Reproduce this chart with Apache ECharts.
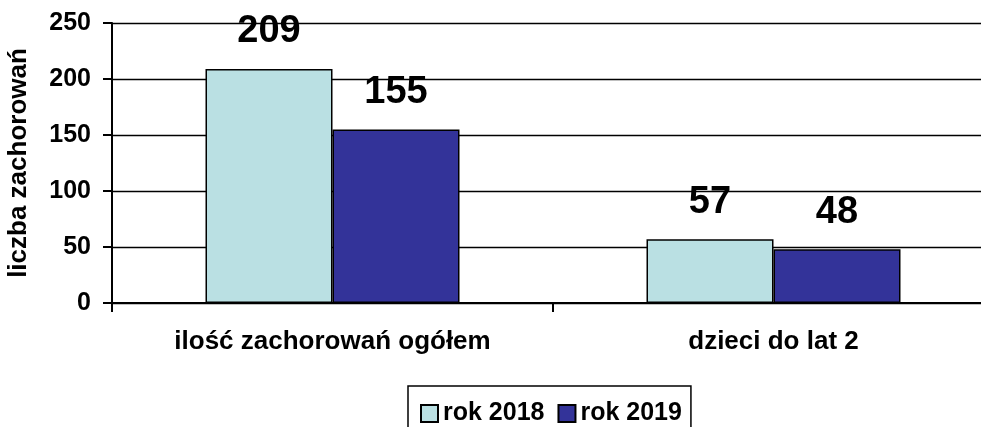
<!DOCTYPE html>
<html>
<head>
<meta charset="utf-8">
<script src="https://cdn.jsdelivr.net/npm/echarts@6/dist/echarts.min.js"></script>
<style>
  html, body { margin: 0; padding: 0; background: #fff; }
  #chart { width: 981px; height: 427px; }
</style>
</head>
<body>
<div id="chart"></div>
<script>
  const categories = ['ilość zachorowań ogółem', 'dzieci do lat 2']
  const seriesNames = ['rok 2018', 'rok 2019']
  const values2018 = [209, 57]
  const values2019 = [155, 48]
  const yTicks = { min: 0, max: 250, interval: 50 }

  const font = 'Liberation Sans, Arial, Helvetica, sans-serif'
  const chart = echarts.init(document.getElementById('chart'), null, { renderer: 'canvas' })

  // one bar series per year
  const makeSeries = (name, data, color) => ({
    name: name,
    type: 'bar',
    data: data,
    barWidth: 127,
    barGap: '0%',
    itemStyle: { color: color, borderColor: '#000', borderWidth: 1.5 },
    label: {
      show: true,
      position: 'top',
      distance: 18,
      color: '#000',
      fontSize: 38,
      fontWeight: 'bold',
      fontFamily: font
    }
  })

  chart.setOption({
    backgroundColor: '#fff',
    animation: false,
    grid: { left: 112, top: 23, bottom: 124, width: 882, outerBoundsMode: 'none', containLabel: false },
    legend: {
      data: seriesNames,
      left: 408,
      top: 386,
      padding: [15, 9, 15, 12],
      itemWidth: 17,
      itemHeight: 17,
      itemGap: 13,
      icon: 'rect',
      borderColor: '#000',
      borderWidth: 1.5,
      textStyle: { color: '#000', fontSize: 25, fontWeight: 'bold', fontFamily: font }
    },
    xAxis: {
      type: 'category',
      data: categories,
      axisLine: { show: true, lineStyle: { color: '#000', width: 2 } },
      axisTick: { show: true, inside: false, length: 9, lineStyle: { color: '#000', width: 2 } },
      axisLabel: { margin: 26, color: '#000', fontSize: 26, fontWeight: 'bold', fontFamily: font }
    },
    yAxis: {
      type: 'value',
      min: yTicks.min,
      max: yTicks.max,
      interval: yTicks.interval,
      name: 'liczba zachorowań',
      nameLocation: 'middle',
      nameGap: 80,
      nameTextStyle: { color: '#000', fontSize: 26, fontWeight: 'bold', fontFamily: font },
      axisLine: { show: true, lineStyle: { color: '#000', width: 2 } },
      axisTick: { show: true, inside: false, length: 9, lineStyle: { color: '#000', width: 2 } },
      splitLine: { lineStyle: { color: '#000', width: 1.3 } },
      axisLabel: { margin: 21, color: '#000', fontSize: 25, fontWeight: 'bold', fontFamily: font }
    },
    series: [
      makeSeries(seriesNames[0], values2018, '#BAE0E3'),
      makeSeries(seriesNames[1], values2019, '#333399')
    ]
  })
</script>
</body>
</html>
